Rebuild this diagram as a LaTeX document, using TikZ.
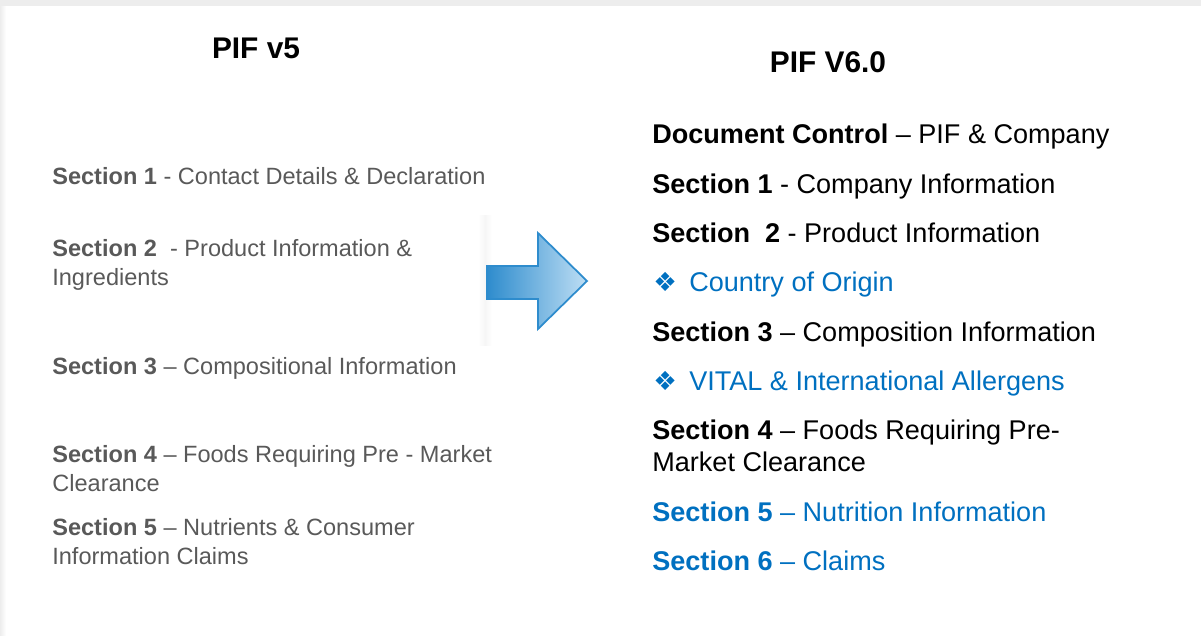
\documentclass[tikz,border=0pt]{standalone}
\usepackage{fontspec}
\setmainfont{Liberation Sans}
\newfontfamily\symfont{DejaVu Sans}
\usetikzlibrary{positioning}
\definecolor{pifblue}{RGB}{0,112,192}
\definecolor{pifgrey}{RGB}{89,89,89}
\definecolor{arrowdark}{RGB}{46,140,205}
\definecolor{arrowlight}{RGB}{190,222,244}

\begin{document}
\begin{tikzpicture}[x=0.02cm,y=-0.02cm]
                \tikzstyle{title} = [font=\fontsize{17}{20}\selectfont\bfseries, anchor=base]
                \tikzstyle{old} = [font=\fontsize{13.4}{16.4}\selectfont, text=pifgrey, anchor=base west, align=left, inner sep=0pt]
                \tikzstyle{new} = [font=\fontsize{15.4}{17.7}\selectfont, text=black, anchor=base west, align=left, inner sep=0pt]
                \tikzstyle{newblue} = [new, text=pifblue]
                \useasboundingbox (0,0) rectangle (1201,636);
                \fill[gray!14] (0,0) rectangle (1201,6);
                \shade[left color=gray!14, right color=white] (0,6) rectangle (6,636);

                % titles
                \node (oldtitle) [title] at (256,58) {PIF v5};
                \node (newtitle) [title] at (828,72) {PIF V6.0};

                % PIF v5 sections (base = last line)
                \node (old1) [old] at (52,184) {\textbf{Section 1} - Contact Details \& Declaration};
                \node (old2) [old] at (52,285) {\textbf{Section 2}\ \ - Product Information \&\\Ingredients};
                \node (old3) [old] at (52,374) {\textbf{Section 3} -- Compositional Information};
                \node (old4) [old] at (52,491) {\textbf{Section 4} -- Foods Requiring Pre - Market\\Clearance};
                \node (old5) [old] at (52,564) {\textbf{Section 5} -- Nutrients \& Consumer\\Information Claims};

                % PIF V6.0 sections
                \node (new0) [new] at (652,143) {\textbf{Document Control} -- PIF \& Company};
                \node (new1) [new] at (652,193) {\textbf{Section 1} - Company Information};
                \node (new2) [new] at (652,242) {\textbf{Section\ \ 2} - Product Information};
                \node (bullet1) [newblue] at (653,291) {{\symfont\fontsize{15}{17}\selectfont ❖}\hspace{7pt}Country of Origin};
                \node (new3) [new] at (652,341) {\textbf{Section 3} -- Composition Information};
                \node (bullet2) [newblue] at (653,390) {{\symfont\fontsize{15}{17}\selectfont ❖}\hspace{7pt}VITAL \& International Allergens};
                \node (new4) [new] at (652,471) {\textbf{Section 4} -- Foods Requiring Pre-\\Market Clearance};
                \node (new5) [newblue] at (652,521) {\textbf{Section 5} -- Nutrition Information};
                \node (new6) [newblue] at (652,570) {\textbf{Section 6} -- Claims};

                % arrow
                \shade[left color=white, right color=white, middle color=gray!7] (478,215) rectangle (492,345);
                \shade[draw=arrowdark, line width=1pt, left color=arrowdark, right color=arrowlight]
                    (487,266) -- (538,266) -- (538,233) -- (587,281) -- (538,329) -- (538,299) -- (487,299) -- cycle;
            \end{tikzpicture}
\end{document}
